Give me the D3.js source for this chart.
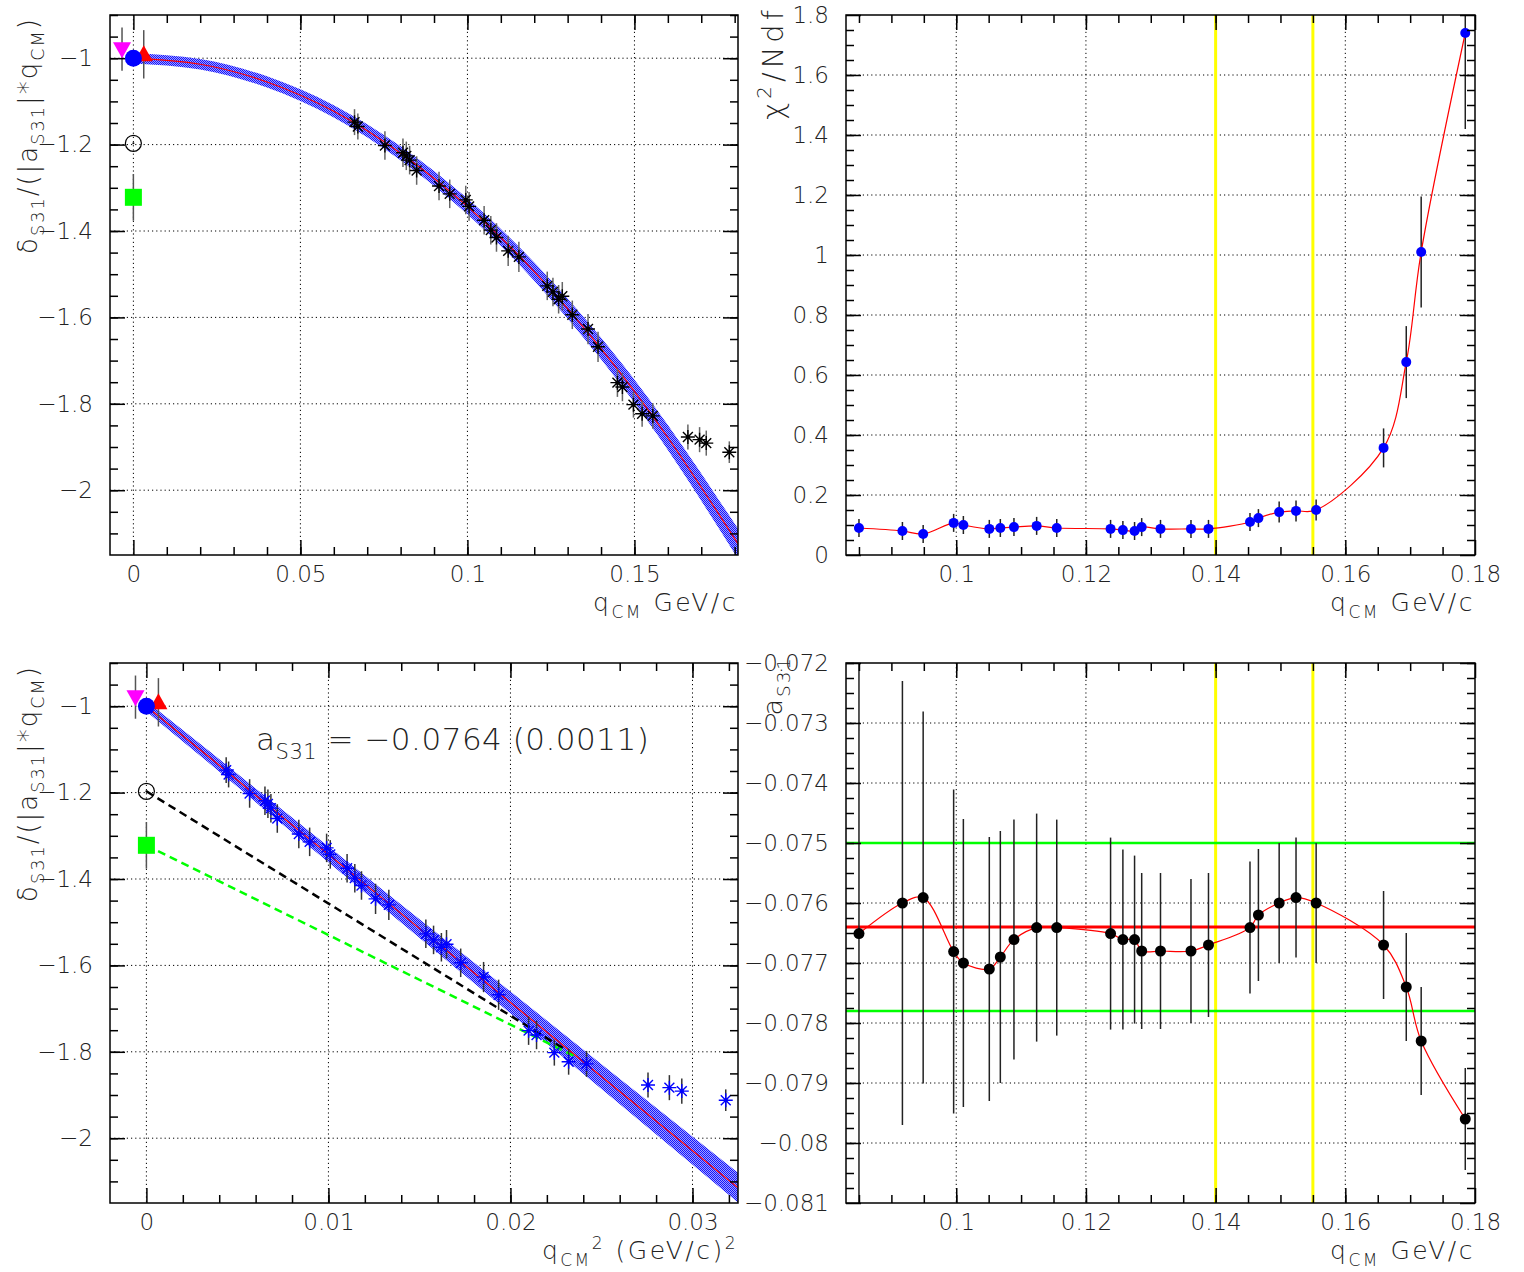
<!DOCTYPE html>
<meta charset="utf-8">
<style>
body { margin: 0; background: #fff; }
text { font-family: "DejaVu Sans", sans-serif; font-weight: 200; fill: #222; }
.tick text { font-size: 23px; }
</style>
<body>
<script src="https://d3js.org/d3.v7.min.js"></script>
<script>

// ---- data ----
// delta/(|a|*q) points (top-left vs q, bottom-left vs q^2)
var starQ = [0.0662, 0.0672, 0.0753, 0.0807, 0.0817, 0.0827, 0.0848, 0.0915, 0.0947, 0.0995,
             0.1005, 0.1050, 0.1070, 0.1087, 0.1122, 0.1154, 0.1239, 0.1256, 0.1273, 0.1284,
             0.1314, 0.1361, 0.1391, 0.1449, 0.1464, 0.1497, 0.1523, 0.1555, 0.1660, 0.1695,
             0.1715, 0.1784];
var starVal = [-1.148, -1.158, -1.202, -1.219, -1.226, -1.236, -1.260, -1.296, -1.314, -1.328,
               -1.343, -1.375, -1.398, -1.415, -1.446, -1.460, -1.527, -1.541, -1.558, -1.551,
               -1.594, -1.627, -1.668, -1.751, -1.761, -1.802, -1.823, -1.828, -1.877, -1.883,
               -1.891, -1.912];
var starErr = [0.030, 0.030, 0.033, 0.033, 0.033, 0.033, 0.033, 0.033, 0.033, 0.033,
               0.033, 0.033, 0.033, 0.033, 0.035, 0.035, 0.033, 0.033, 0.033, 0.033,
               0.033, 0.035, 0.035, 0.033, 0.033, 0.030, 0.030, 0.030, 0.029, 0.029,
               0.029, 0.025];

// fit curve and its error band
var fitQ   = [0, 0.02, 0.04, 0.06, 0.08, 0.10, 0.12, 0.14, 0.16, 0.182];
var fitVal = [-1.000, -1.014, -1.055, -1.123, -1.220, -1.343, -1.494, -1.672, -1.878, -2.136];
var fitErr = [0.012, 0.012, 0.013, 0.014, 0.016, 0.018, 0.021, 0.025, 0.029, 0.035];

// reference points at threshold: magenta, blue, red, open circle, green
var refVal  = [-0.979, -1.000, -0.991, -1.197, -1.322];
var refErr  = [0.050, 0, 0.056, 0, 0.054];
var refXTop = [-0.0034, 0, 0.0031, 0, 0];
var refXBot = [-0.0006, 0, 0.00066, 0, 0];

// dashed lines in the bottom-left panel [x0, y0, x1, y1]
var dashBlack = [0, -1.197, 0.0231, -1.797];
var dashGreen = [0, -1.322, 0.0236, -1.812];

// fits versus upper q cut
var cutQ = [0.0850, 0.0917, 0.0949, 0.0996, 0.1011, 0.1051, 0.1068, 0.1089, 0.1124, 0.1155,
            0.1238, 0.1257, 0.1275, 0.1286, 0.1315, 0.1362, 0.1389, 0.1453, 0.1466, 0.1498,
            0.1524, 0.1555, 0.1659, 0.1694, 0.1717, 0.1785];
var chi2 = [0.090, 0.080, 0.070, 0.107, 0.100, 0.087, 0.090, 0.093, 0.097, 0.090,
            0.087, 0.083, 0.080, 0.093, 0.087, 0.087, 0.087, 0.110, 0.123, 0.143,
            0.147, 0.150, 0.357, 0.643, 1.010, 1.740];
var chi2Err = [0.03, 0.03, 0.03, 0.03, 0.03, 0.03, 0.03, 0.03, 0.03, 0.03,
               0.03, 0.03, 0.03, 0.03, 0.03, 0.03, 0.03, 0.03, 0.03, 0.035,
               0.035, 0.035, 0.065, 0.12, 0.185, 0.32];
var aS31 = [-0.07651, -0.0760, -0.07591, -0.07681, -0.0770, -0.0771, -0.0769, -0.07661, -0.07641, -0.07641,
            -0.07651, -0.07661, -0.07661, -0.0768, -0.0768, -0.0768, -0.0767, -0.07641, -0.0762, -0.0760,
            -0.07591, -0.0760, -0.0767, -0.0774, -0.0783, -0.0796];
var aS31Err = [0.005, 0.0037, 0.0031, 0.0027, 0.0024, 0.0022, 0.0021, 0.0020, 0.0019, 0.0018,
               0.0016, 0.0015, 0.0014, 0.0013, 0.0013, 0.0012, 0.0012, 0.0011, 0.0011, 0.0010,
               0.0010, 0.0010, 0.0009, 0.0009, 0.0009, 0.00085];

var aMean = -0.0764, aLow = -0.0778, aHigh = -0.0750;
var cutLines = [0.14, 0.155];

// tick labels
var ticksQ   = [0, 0.05, 0.1, 0.15];
var ticksQ2  = [0, 0.01, 0.02, 0.03];
var ticksCut = [0.1, 0.12, 0.14, 0.16, 0.18];
var ticksD   = [-1, -1.2, -1.4, -1.6, -1.8, -2];
var ticksChi = [0, 0.2, 0.4, 0.6, 0.8, 1, 1.2, 1.4, 1.6, 1.8];
var ticksA   = [-0.072, -0.073, -0.074, -0.075, -0.076, -0.077, -0.078, -0.079, -0.08, -0.081];

// ---- drawing ----
var W = 1524, H = 1272;
var svg = d3.select("body").append("svg").attr("width", W).attr("height", H);
svg.append("rect").attr("width", W).attr("height", H).attr("fill", "#fff");
var defs = svg.append("defs");

// checkered blue fill of the error band
var pat = defs.append("pattern").attr("id", "band")
    .attr("width", 2).attr("height", 2).attr("patternUnits", "userSpaceOnUse");
pat.append("rect").attr("width", 2).attr("height", 2).attr("fill", "#a0a0ff");
pat.append("rect").attr("width", 1).attr("height", 1).attr("fill", "#1414ff");
pat.append("rect").attr("x", 1).attr("y", 1).attr("width", 1).attr("height", 1).attr("fill", "#1414ff");

function panel(id, box, xdom, ydom, xMajor, xMinor, yMajor, yMinor) {
  var p = { box: box, xMajor: xMajor, xMinor: xMinor, yMajor: yMajor, yMinor: yMinor };
  p.x = d3.scaleLinear().domain(xdom).range([box.l, box.r]);
  p.y = d3.scaleLinear().domain(ydom).range([box.b, box.t]);
  defs.append("clipPath").attr("id", "clip" + id).append("rect")
      .attr("x", box.l).attr("y", box.t).attr("width", box.r - box.l).attr("height", box.b - box.t);
  var grid = svg.append("g").attr("stroke", "#000").attr("stroke-width", 1).attr("stroke-dasharray", "1.2,3");
  grid.selectAll(".gx").data(xMajor.filter(function(d) { return p.x(d) > box.l + 1 && p.x(d) < box.r - 1; }))
    .enter().append("line")
      .attr("x1", function(d) { return p.x(d); }).attr("x2", function(d) { return p.x(d); })
      .attr("y1", box.t).attr("y2", box.b);
  grid.selectAll(".gy").data(yMajor.filter(function(d) { return p.y(d) > box.t + 1 && p.y(d) < box.b - 1; }))
    .enter().append("line")
      .attr("y1", function(d) { return p.y(d); }).attr("y2", function(d) { return p.y(d); })
      .attr("x1", box.l).attr("x2", box.r);
  p.plot = svg.append("g").attr("clip-path", "url(#clip" + id + ")");
  return p;
}

function frame(p) {
  var b = p.box, fmt = d3.format("");
  var ax = svg.append("g");
  function add(axis, tx, ty) {
    var g = ax.append("g").attr("transform", "translate(" + tx + "," + ty + ")").call(axis);
    g.select(".domain").remove();
    g.selectAll("line").attr("stroke", "#000").attr("stroke-width", 1.5);
    return g;
  }
  add(d3.axisBottom(p.x).tickValues(p.xMajor).tickSize(-15).tickPadding(11).tickFormat(fmt), 0, b.b);
  add(d3.axisBottom(p.x).tickValues(p.xMinor).tickSize(-8).tickFormat(""), 0, b.b);
  add(d3.axisTop(p.x).tickValues(p.xMajor).tickSize(-15).tickFormat(""), 0, b.t);
  add(d3.axisTop(p.x).tickValues(p.xMinor).tickSize(-8).tickFormat(""), 0, b.t);
  add(d3.axisLeft(p.y).tickValues(p.yMajor).tickSize(-15).tickPadding(17).tickFormat(fmt), b.l, 0);
  add(d3.axisLeft(p.y).tickValues(p.yMinor).tickSize(-8).tickFormat(""), b.l, 0);
  add(d3.axisRight(p.y).tickValues(p.yMajor).tickSize(-15).tickFormat(""), b.r, 0);
  add(d3.axisRight(p.y).tickValues(p.yMinor).tickSize(-8).tickFormat(""), b.r, 0);
  ax.append("rect").attr("x", b.l).attr("y", b.t).attr("width", b.r - b.l).attr("height", b.b - b.t)
    .attr("fill", "none").attr("stroke", "#000").attr("stroke-width", 1.5);
}

// text with sub/superscripts
function rich(sel, parts, size) {
  var shift = 0;
  sel.attr("font-size", size);
  parts.forEach(function(pt) {
    var target = pt[1] === "sub" ? size * 0.28 : pt[1] === "sup" ? -size * 0.42 : 0;
    var t = sel.append("tspan").text(pt[0]).attr("dy", target - shift);
    if (pt[1] !== "n") t.attr("font-size", size * 0.68);
    shift = target;
  });
  return sel;
}
function yTitle(x, y, parts, size, sp) {
  var t = svg.append("text").attr("transform", "translate(" + x + "," + y + ") rotate(-90)")
      .attr("text-anchor", "end").attr("letter-spacing", sp);
  return rich(t, parts, size);
}
function xTitle(x, y, parts) {
  var t = svg.append("text").attr("x", x).attr("y", y)
      .attr("text-anchor", "end").attr("letter-spacing", 2.5);
  return rich(t, parts, 25);
}

function starPath(s) {
  var d = s * 0.707;
  return "M" + (-s) + ",0H" + s + "M0," + (-s) + "V" + s +
         "M" + (-d) + "," + (-d) + "L" + d + "," + d + "M" + (-d) + "," + d + "L" + d + "," + (-d);
}
function refMarkers(p, xs) {
  var g = p.plot.append("g");
  refVal.forEach(function(v, i) {
    if (refErr[i] > 0) {
      g.append("line").attr("x1", p.x(xs[i])).attr("x2", p.x(xs[i]))
        .attr("y1", p.y(v - refErr[i])).attr("y2", p.y(v + refErr[i]))
        .attr("stroke", "#555").attr("stroke-width", 1.5);
    }
  });
  var cx = function(i) { return p.x(xs[i]); }, cy = function(i) { return p.y(refVal[i]); };
  g.append("path").attr("transform", "translate(" + cx(0) + "," + cy(0) + ")")
    .attr("d", "M-9,-7H9L0,9Z").attr("fill", "#ff00ff");
  g.append("path").attr("transform", "translate(" + cx(2) + "," + cy(2) + ")")
    .attr("d", "M-9,7H9L0,-9Z").attr("fill", "#ff0000");
  g.append("circle").attr("cx", cx(1)).attr("cy", cy(1)).attr("r", 8.5).attr("fill", "#0000ff");
  g.append("circle").attr("cx", cx(3)).attr("cy", cy(3)).attr("r", 8)
    .attr("fill", "none").attr("stroke", "#000").attr("stroke-width", 1.2);
  g.append("circle").attr("cx", cx(3)).attr("cy", cy(3)).attr("r", 1).attr("fill", "#000");
  g.append("rect").attr("x", cx(4) - 8.5).attr("y", cy(4) - 8.5).attr("width", 17).attr("height", 17)
    .attr("fill", "#00ff00");
}

function stars(p, xs, color, barColor) {
  var g = p.plot.append("g");
  g.selectAll(".eb").data(starVal).enter().append("line")
    .attr("x1", function(d, i) { return p.x(xs[i]); }).attr("x2", function(d, i) { return p.x(xs[i]); })
    .attr("y1", function(d, i) { return p.y(d - starErr[i]); })
    .attr("y2", function(d, i) { return p.y(d + starErr[i]); })
    .attr("stroke", barColor).attr("stroke-width", 1.5);
  g.selectAll(".st").data(starVal).enter().append("path")
    .attr("transform", function(d, i) { return "translate(" + p.x(xs[i]) + "," + p.y(d) + ")"; })
    .attr("d", starPath(7)).attr("stroke", color).attr("stroke-width", 1.4).attr("fill", "none");
  g.selectAll(".sd").data(starVal).enter().append("circle")
    .attr("cx", function(d, i) { return p.x(xs[i]); }).attr("cy", function(d) { return p.y(d); })
    .attr("r", 2).attr("fill", color);
}

function fitBand(p, xs, curve) {
  var pts = fitVal.map(function(v, i) { return [xs[i], v, fitErr[i]]; });
  p.plot.append("path").datum(pts)
    .attr("d", d3.area().curve(curve)
      .x(function(d) { return p.x(d[0]); })
      .y0(function(d) { return p.y(d[1] - d[2]); })
      .y1(function(d) { return p.y(d[1] + d[2]); }))
    .attr("fill", "url(#band)");
  p.plot.append("path").datum(pts)
    .attr("d", d3.line().curve(curve)
      .x(function(d) { return p.x(d[0]); }).y(function(d) { return p.y(d[1]); }))
    .attr("fill", "none").attr("stroke", "#ff0000").attr("stroke-width", 1.2);
}

function cutPanel(p, vals, errs, dotColor, r) {
  cutLines.forEach(function(c) {
    p.plot.append("line").attr("x1", p.x(c)).attr("x2", p.x(c)).attr("y1", p.box.t).attr("y2", p.box.b)
      .attr("stroke", "#ffff00").attr("stroke-width", 3);
  });
  return function() {
    var g = p.plot.append("g");
    g.selectAll(".eb").data(vals).enter().append("line")
      .attr("x1", function(d, i) { return p.x(cutQ[i]); }).attr("x2", function(d, i) { return p.x(cutQ[i]); })
      .attr("y1", function(d, i) { return p.y(d - errs[i]); })
      .attr("y2", function(d, i) { return p.y(d + errs[i]); })
      .attr("stroke", "#222").attr("stroke-width", 1.5);
    g.append("path").datum(vals)
      .attr("d", d3.line().curve(d3.curveCatmullRom.alpha(0.5))
        .x(function(d, i) { return p.x(cutQ[i]); }).y(function(d) { return p.y(d); }))
      .attr("fill", "none").attr("stroke", "#ff0000").attr("stroke-width", 1.2);
    g.selectAll(".dot").data(vals).enter().append("circle")
      .attr("cx", function(d, i) { return p.x(cutQ[i]); }).attr("cy", function(d) { return p.y(d); })
      .attr("r", r).attr("fill", dotColor);
  };
}

var deltaTitle = [["δ", "n"], ["S31", "sub"], ["/(|a", "n"], ["S31", "sub"], ["|*q", "n"], ["CM", "sub"], [")", "n"]];

// ---- top-left: vs q ----
var p1 = panel(1, { l: 110, r: 738, t: 15, b: 555 }, [-0.007, 0.181], [-2.15, -0.9],
  ticksQ, d3.range(0.01, 0.181, 0.01), ticksD, d3.range(-2.1, -0.9, 0.05));
fitBand(p1, fitQ, d3.curveNatural);
stars(p1, starQ, "#000", "#666");
refMarkers(p1, refXTop);
frame(p1);
yTitle(37, 17, deltaTitle, 26, 2);
xTitle(738, 611, [["q", "n"], ["CM", "sub"], [" GeV/c", "n"]]);

// ---- top-right: chi2/Ndf vs q cut ----
var p2 = panel(2, { l: 846, r: 1475, t: 15, b: 555 }, [0.083, 0.18], [0, 1.8],
  ticksCut, d3.range(0.085, 0.18, 0.005), ticksChi, d3.range(0.05, 1.8, 0.05));
cutPanel(p2, chi2, chi2Err, "#0000ff", 5)();
frame(p2);
yTitle(783, 6, [["χ", "n"], ["2", "sup"], ["/Ndf", "n"]], 29, 4);
xTitle(1475, 611, [["q", "n"], ["CM", "sub"], [" GeV/c", "n"]]);

// ---- bottom-left: vs q^2 ----
var q2 = function(a) { return a.map(function(q) { return q * q; }); };
var p3 = panel(3, { l: 110, r: 738, t: 663, b: 1203 }, [-0.002, 0.0325], [-2.15, -0.9],
  ticksQ2, d3.range(0.002, 0.0325, 0.002), ticksD, d3.range(-2.1, -0.9, 0.05));
fitBand(p3, q2(fitQ), d3.curveLinear);
[[dashBlack, "#000"], [dashGreen, "#00ff00"]].forEach(function(dl) {
  p3.plot.append("line")
    .attr("x1", p3.x(dl[0][0])).attr("y1", p3.y(dl[0][1]))
    .attr("x2", p3.x(dl[0][2])).attr("y2", p3.y(dl[0][3]))
    .attr("stroke", dl[1]).attr("stroke-width", 2.5).attr("stroke-dasharray", "8,5");
});
stars(p3, q2(starQ), "#0000ff", "#333");
refMarkers(p3, refXBot);
frame(p3);
yTitle(37, 665, deltaTitle, 26, 2);
xTitle(738, 1259, [["q", "n"], ["CM", "sub"], ["2", "sup"], [" (GeV/c)", "n"], ["2", "sup"]]);
rich(svg.append("text").attr("x", 256).attr("y", 750).attr("letter-spacing", 0.5),
  [["a", "n"], ["S31", "sub"], [" = −0.0764 (0.0011)", "n"]], 31);

// ---- bottom-right: a_S31 vs q cut ----
var p4 = panel(4, { l: 846, r: 1475, t: 663, b: 1203 }, [0.083, 0.18], [-0.081, -0.072],
  ticksCut, d3.range(0.085, 0.18, 0.005), ticksA, d3.range(-0.08075, -0.072, 0.00025));
var drawP4 = cutPanel(p4, aS31, aS31Err, "#000", 5.5);
[[aHigh, "#00ff00", 2.5], [aLow, "#00ff00", 2.5], [aMean, "#ff0000", 3]].forEach(function(h) {
  p4.plot.append("line").attr("x1", p4.box.l).attr("x2", p4.box.r)
    .attr("y1", p4.y(h[0])).attr("y2", p4.y(h[0]))
    .attr("stroke", h[1]).attr("stroke-width", h[2]);
});
drawP4();
frame(p4);
yTitle(782, 656, [["a", "n"], ["S31", "sub"]], 27, 2);
xTitle(1475, 1259, [["q", "n"], ["CM", "sub"], [" GeV/c", "n"]]);

</script>
